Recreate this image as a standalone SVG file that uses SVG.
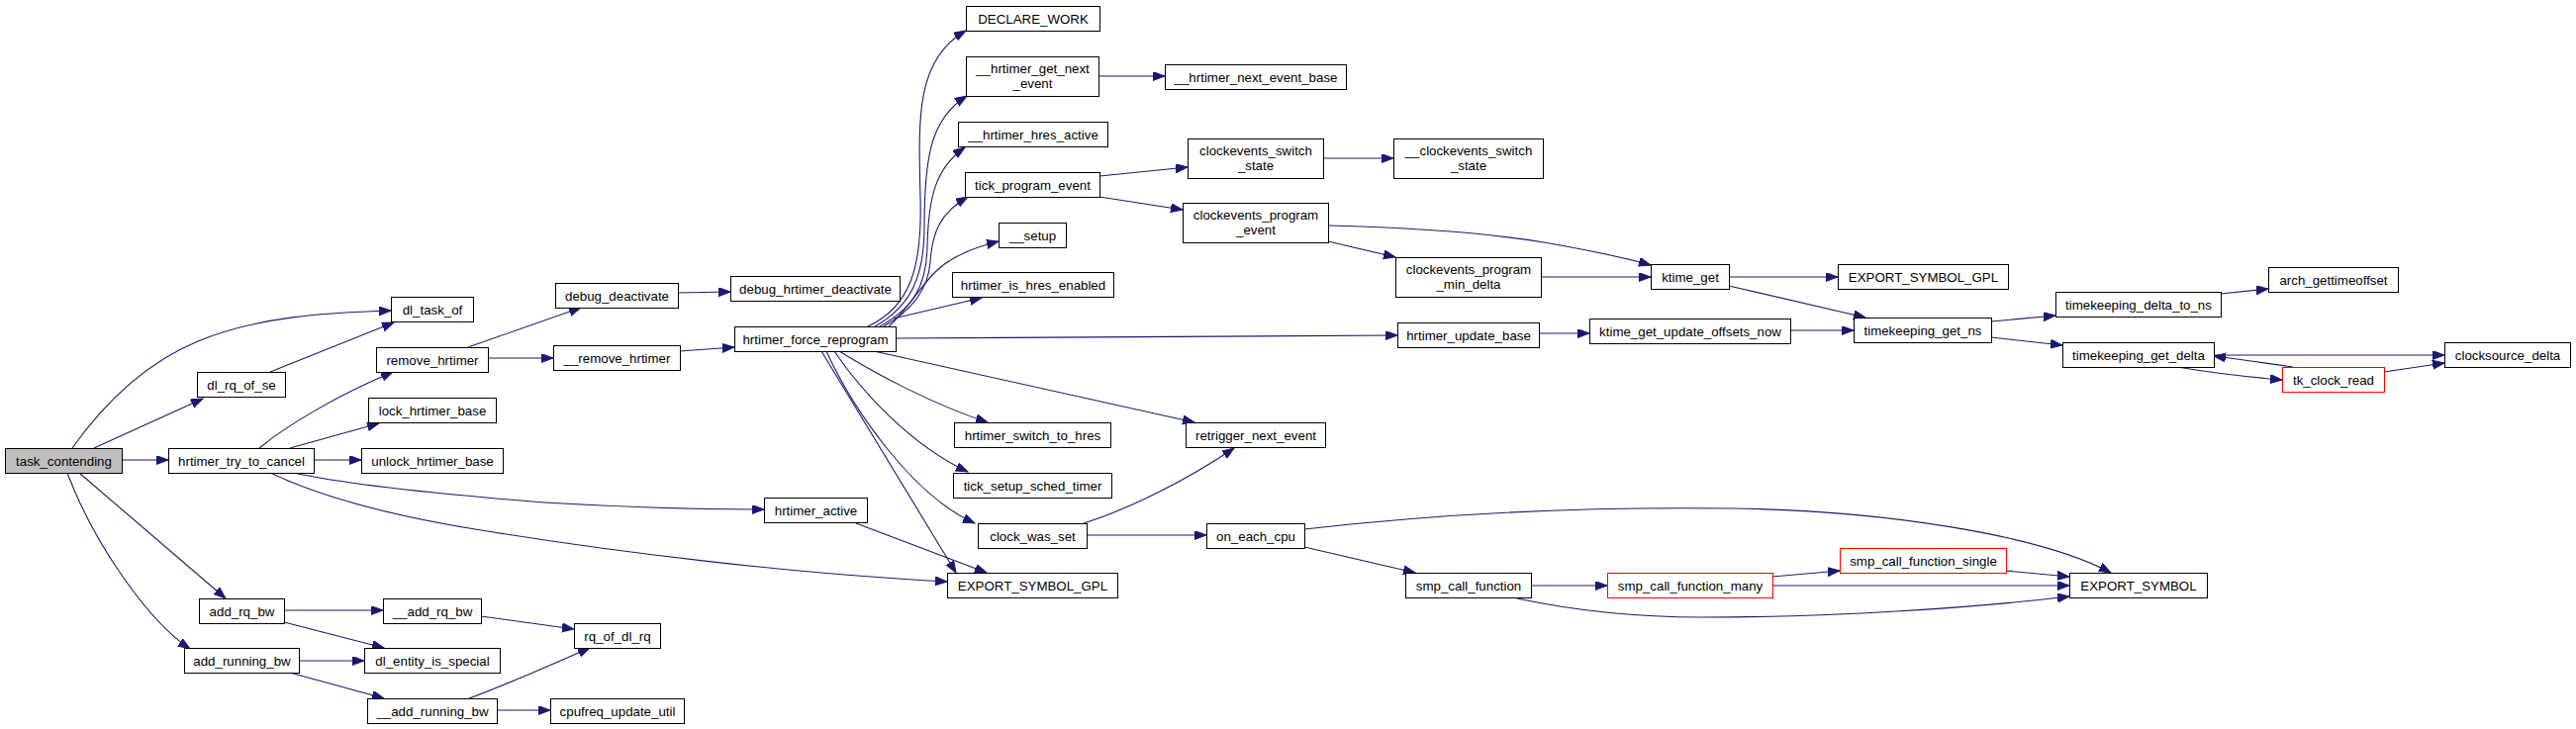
<svg xmlns="http://www.w3.org/2000/svg" width="2603" height="737" viewBox="0 0 2603 737">
<style>
.n rect{fill:#fff;stroke:#000;stroke-width:1}
.n.root rect{fill:#bfbfbf}
.n.red rect{stroke:#ff0000}
.n text{font-family:"Liberation Sans",Arial,Helvetica,sans-serif;font-size:13.3px;fill:#000;text-anchor:middle}
#edges path{fill:none;stroke:#191970;stroke-width:1.1;marker-end:url(#ah)}
</style>
<defs>
<marker id="ah" markerUnits="userSpaceOnUse" markerWidth="13" markerHeight="10" refX="12" refY="4.5" orient="auto">
<path d="M0,0 L12,4.5 L0,9 z" fill="#191970" stroke="#191970" stroke-width="1"/>
</marker>
</defs>
<rect width="2603" height="737" fill="#fff"/>
<g id="edges">
<path d="M73,453 C100,415 140,370 200,345 S330,316 395,314"/>
<path d="M273,376 L398,326"/>
<path d="M95,453 L205,403"/>
<path d="M123,465 L170,465"/>
<path d="M80,478 L228,605"/>
<path d="M68,478 C95,550 150,628 192,656"/>
<path d="M262,453 C290,430 340,400 397,376"/>
<path d="M293,453 L383,428"/>
<path d="M317,465 L365,465"/>
<path d="M297,478 C350,490 450,500 550,508 C650,514 720,515 772,515"/>
<path d="M273,478 C330,505 400,522 480,535 C620,558 800,580 957,588"/>
<path d="M473,351 L587,311"/>
<path d="M493,362 L559,362"/>
<path d="M685,296 L738,295"/>
<path d="M687,355 L742,351"/>
<path d="M877,330 C920,310 932,270 930,200 C928,120 925,60 976,31"/>
<path d="M884,330 C920,310 934,280 934,230 C934,160 940,120 977,97"/>
<path d="M889,330 C922,312 936,290 937,250 C938,200 945,170 975,149"/>
<path d="M893,330 C925,312 938,290 940,265 C942,235 950,215 978,199"/>
<path d="M898,330 C915,315 930,290 945,275 C960,260 985,250 1009,244"/>
<path d="M903,322 L992,301"/>
<path d="M905,342 L1412,339"/>
<path d="M883,355 L1207,427"/>
<path d="M848,355 C880,375 940,408 998,427"/>
<path d="M843,355 C870,395 920,450 978,477"/>
<path d="M835,355 C860,410 920,500 985,529"/>
<path d="M830,355 L966,579"/>
<path d="M865,529 L997,579"/>
<path d="M1095,529 C1140,515 1200,485 1247,453"/>
<path d="M1098,541 L1219,541"/>
<path d="M1318,535 C1450,520 1600,512 1750,514 C1900,516 2060,540 2133,579"/>
<path d="M1318,553 L1430,579"/>
<path d="M1547,592 L1624,592"/>
<path d="M1533,605 C1580,615 1640,624 1720,624 C1850,624 1990,615 2091,603"/>
<path d="M1791,583 L1859,577"/>
<path d="M1791,592 L2091,592"/>
<path d="M2027,577 L2091,583"/>
<path d="M1111,178 L1200,169"/>
<path d="M1111,199 L1195,212"/>
<path d="M1110,77 L1177,77"/>
<path d="M1337,160 L1408,160"/>
<path d="M1342,228 C1420,230 1500,235 1560,245 C1600,252 1640,260 1668,268"/>
<path d="M1342,244 L1410,260"/>
<path d="M1557,280 L1668,280"/>
<path d="M1555,337 L1606,337"/>
<path d="M1747,280 L1857,280"/>
<path d="M1747,289 L1885,321"/>
<path d="M1809,334 L1873,334"/>
<path d="M2012,325 L2077,319"/>
<path d="M2012,341 L2084,349"/>
<path d="M2244,297 L2292,292"/>
<path d="M2237,359 L2470,359"/>
<path d="M2200,371 C2230,376 2270,381 2306,384"/>
<path d="M2317,371 C2290,367 2260,363 2237,360"/>
<path d="M2409,376 L2470,367"/>
<path d="M287,617 L387,617"/>
<path d="M287,629 L388,655"/>
<path d="M486,623 L580,636"/>
<path d="M302,668 L368,668"/>
<path d="M293,680 L388,706"/>
<path d="M474,706 C510,693 550,675 596,655"/>
<path d="M502,718 L556,718"/>
</g>
<g id="task_contending" class="n root"><rect x="5.5" y="453.5" width="118" height="25"/><text x="64.5" y="470.5">task_contending</text></g>
<g id="dl_task_of" class="n"><rect x="395.5" y="300.5" width="83" height="25"/><text x="437" y="317.5">dl_task_of</text></g>
<g id="dl_rq_of_se" class="n"><rect x="199.5" y="376.5" width="89" height="25"/><text x="244" y="393.5">dl_rq_of_se</text></g>
<g id="hrtimer_try_to_cancel" class="n"><rect x="170.5" y="453.5" width="147" height="25"/><text x="244" y="470.5">hrtimer_try_to_cancel</text></g>
<g id="add_rq_bw" class="n"><rect x="201.5" y="605.5" width="86" height="25"/><text x="244.5" y="622.5">add_rq_bw</text></g>
<g id="add_running_bw" class="n"><rect x="186.5" y="655.5" width="116" height="25"/><text x="244.5" y="672.5">add_running_bw</text></g>
<g id="remove_hrtimer" class="n"><rect x="380.5" y="351.5" width="113" height="25"/><text x="437" y="368.5">remove_hrtimer</text></g>
<g id="lock_hrtimer_base" class="n"><rect x="372.5" y="402.5" width="129" height="25"/><text x="437" y="419.5">lock_hrtimer_base</text></g>
<g id="unlock_hrtimer_base" class="n"><rect x="365.5" y="453.5" width="143" height="25"/><text x="437" y="470.5">unlock_hrtimer_base</text></g>
<g id="__add_rq_bw" class="n"><rect x="387.5" y="605.5" width="99" height="25"/><text x="437" y="622.5">__add_rq_bw</text></g>
<g id="dl_entity_is_special" class="n"><rect x="368.5" y="655.5" width="137" height="25"/><text x="437" y="672.5">dl_entity_is_special</text></g>
<g id="__add_running_bw" class="n"><rect x="371.5" y="706.5" width="131" height="25"/><text x="437" y="723.5">__add_running_bw</text></g>
<g id="debug_deactivate" class="n"><rect x="561.5" y="286.5" width="124" height="25"/><text x="623.5" y="303.5">debug_deactivate</text></g>
<g id="__remove_hrtimer" class="n"><rect x="559.5" y="349.5" width="128" height="25"/><text x="623.5" y="366.5">__remove_hrtimer</text></g>
<g id="rq_of_dl_rq" class="n"><rect x="580.5" y="630.5" width="87" height="25"/><text x="624" y="647.5">rq_of_dl_rq</text></g>
<g id="cpufreq_update_util" class="n"><rect x="556.5" y="706.5" width="135" height="25"/><text x="624" y="723.5">cpufreq_update_util</text></g>
<g id="debug_hrtimer_deactivate" class="n"><rect x="738.5" y="279.5" width="171" height="25"/><text x="824" y="296.5">debug_hrtimer_deactivate</text></g>
<g id="hrtimer_force_reprogram" class="n"><rect x="742.5" y="330.5" width="163" height="25"/><text x="824" y="347.5">hrtimer_force_reprogram</text></g>
<g id="hrtimer_active" class="n"><rect x="772.5" y="503.5" width="104" height="25"/><text x="824.5" y="520.5">hrtimer_active</text></g>
<g id="DECLARE_WORK" class="n"><rect x="976.5" y="6.5" width="135" height="25"/><text x="1044" y="23.5">DECLARE_WORK</text></g>
<g id="__hrtimer_get_next_event" class="n"><rect x="976.5" y="57.5" width="134" height="40"/><text x="1043.5" y="73.5">__hrtimer_get_next</text><text x="1043.5" y="88.5">_event</text></g>
<g id="__hrtimer_hres_active" class="n"><rect x="968.5" y="123.5" width="151" height="25"/><text x="1044" y="140.5">__hrtimer_hres_active</text></g>
<g id="tick_program_event" class="n"><rect x="975.5" y="174.5" width="136" height="25"/><text x="1043.5" y="191.5">tick_program_event</text></g>
<g id="__setup" class="n"><rect x="1009.5" y="225.5" width="68" height="25"/><text x="1043.5" y="242.5">__setup</text></g>
<g id="hrtimer_is_hres_enabled" class="n"><rect x="962.5" y="275.5" width="163" height="25"/><text x="1044" y="292.5">hrtimer_is_hres_enabled</text></g>
<g id="hrtimer_switch_to_hres" class="n"><rect x="964.5" y="427.5" width="158" height="25"/><text x="1043.5" y="444.5">hrtimer_switch_to_hres</text></g>
<g id="tick_setup_sched_timer" class="n"><rect x="963.5" y="478.5" width="160" height="25"/><text x="1043.5" y="495.5">tick_setup_sched_timer</text></g>
<g id="clock_was_set" class="n"><rect x="988.5" y="529.5" width="110" height="25"/><text x="1043.5" y="546.5">clock_was_set</text></g>
<g id="EXPORT_SYMBOL_GPL_1" class="n"><rect x="957.5" y="579.5" width="172" height="25"/><text x="1043.5" y="596.5">EXPORT_SYMBOL_GPL</text></g>
<g id="__hrtimer_next_event_base" class="n"><rect x="1177.5" y="65.5" width="183" height="25"/><text x="1269" y="82.5">__hrtimer_next_event_base</text></g>
<g id="clockevents_switch_state" class="n"><rect x="1200.5" y="140.5" width="137" height="40"/><text x="1269" y="156.5">clockevents_switch</text><text x="1269" y="171.5">_state</text></g>
<g id="clockevents_program_event" class="n"><rect x="1195.5" y="205.5" width="147" height="40"/><text x="1269" y="221.5">clockevents_program</text><text x="1269" y="236.5">_event</text></g>
<g id="retrigger_next_event" class="n"><rect x="1198.5" y="427.5" width="141" height="25"/><text x="1269" y="444.5">retrigger_next_event</text></g>
<g id="on_each_cpu" class="n"><rect x="1219.5" y="529.5" width="99" height="25"/><text x="1269" y="546.5">on_each_cpu</text></g>
<g id="__clockevents_switch_state" class="n"><rect x="1408.5" y="140.5" width="151" height="40"/><text x="1484" y="156.5">__clockevents_switch</text><text x="1484" y="171.5">_state</text></g>
<g id="clockevents_program_min_delta" class="n"><rect x="1410.5" y="260.5" width="147" height="40"/><text x="1484" y="276.5">clockevents_program</text><text x="1484" y="291.5">_min_delta</text></g>
<g id="hrtimer_update_base" class="n"><rect x="1412.5" y="326.5" width="143" height="25"/><text x="1484" y="343.5">hrtimer_update_base</text></g>
<g id="smp_call_function" class="n"><rect x="1420.5" y="579.5" width="127" height="25"/><text x="1484" y="596.5">smp_call_function</text></g>
<g id="ktime_get" class="n"><rect x="1668.5" y="267.5" width="79" height="25"/><text x="1708" y="284.5">ktime_get</text></g>
<g id="ktime_get_update_offsets_now" class="n"><rect x="1606.5" y="322.5" width="203" height="25"/><text x="1708" y="339.5">ktime_get_update_offsets_now</text></g>
<g id="smp_call_function_many" class="n red"><rect x="1624.5" y="579.5" width="167" height="25"/><text x="1708" y="596.5">smp_call_function_many</text></g>
<g id="EXPORT_SYMBOL_GPL_2" class="n"><rect x="1857.5" y="267.5" width="172" height="25"/><text x="1943.5" y="284.5">EXPORT_SYMBOL_GPL</text></g>
<g id="timekeeping_get_ns" class="n"><rect x="1873.5" y="321.5" width="139" height="25"/><text x="1943" y="338.5">timekeeping_get_ns</text></g>
<g id="smp_call_function_single" class="n red"><rect x="1859.5" y="554.5" width="168" height="25"/><text x="1943.5" y="571.5">smp_call_function_single</text></g>
<g id="timekeeping_delta_to_ns" class="n"><rect x="2077.5" y="295.5" width="167" height="25"/><text x="2161" y="312.5">timekeeping_delta_to_ns</text></g>
<g id="timekeeping_get_delta" class="n"><rect x="2084.5" y="346.5" width="153" height="25"/><text x="2161" y="363.5">timekeeping_get_delta</text></g>
<g id="EXPORT_SYMBOL" class="n"><rect x="2091.5" y="579.5" width="139" height="25"/><text x="2161" y="596.5">EXPORT_SYMBOL</text></g>
<g id="arch_gettimeoffset" class="n"><rect x="2292.5" y="270.5" width="131" height="25"/><text x="2358" y="287.5">arch_gettimeoffset</text></g>
<g id="clocksource_delta" class="n"><rect x="2470.5" y="346.5" width="127" height="25"/><text x="2534" y="363.5">clocksource_delta</text></g>
<g id="tk_clock_read" class="n red"><rect x="2306.5" y="371.5" width="103" height="25"/><text x="2358" y="388.5">tk_clock_read</text></g>
</svg>
